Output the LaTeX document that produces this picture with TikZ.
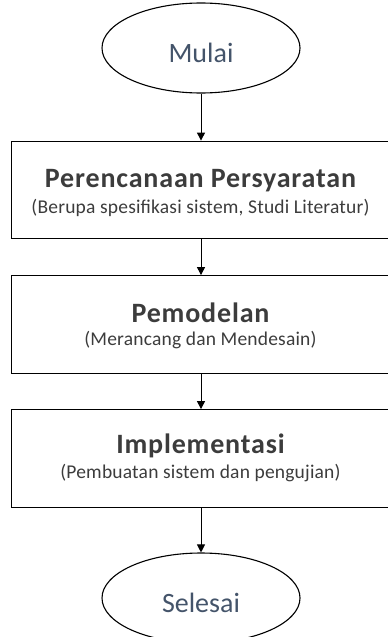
\documentclass[tikz,border=0pt]{standalone}
\usepackage{fontspec}
\setmainfont{Carlito}
\newfontfamily\titlefont[LetterSpace=3]{Carlito}
\newfontfamily\subfont[LetterSpace=1]{Carlito}
\usetikzlibrary{shapes.geometric,arrows.meta}
\definecolor{txt}{HTML}{3C3C3C}
\definecolor{term}{HTML}{44546A}
\begin{document}
\begin{tikzpicture}[x=1pt,y=-1pt,
  procbox/.style={draw=black,line width=1.3pt,minimum width=380pt,minimum height=97.5pt,inner sep=0pt},
  terminal/.style={draw=black,ellipse,line width=1.1pt,minimum width=198pt,minimum height=90pt,inner sep=0pt,
    text=term,font=\fontsize{28}{30}\selectfont,text height=28pt,text depth=0pt},
  titletext/.style={anchor=base,text=txt,font=\titlefont\fontsize{28}{30}\selectfont\bfseries},
  subtext/.style={anchor=base,text=txt,font=\subfont\fontsize{19.5}{22}\selectfont},
  flow/.style={draw=black,line width=1pt,-{Triangle[length=8pt,width=8pt]}}]
\useasboundingbox (0,0) rectangle (388,637);
\node[terminal] (start) at (201,48) {Mulai};
\node[procbox] (b1) at (201.5,190) {};
\node[procbox] (b2) at (201.5,324.5) {};
\node[procbox] (b3) at (201.5,458.5) {};
\node[terminal] (end) at (201,598) {Selesai};
\node[titletext] (t1) at (200.5,187) {Perencanaan Persyaratan};
\node[subtext] (s1) at (200.5,213) {(Berupa spesifikasi sistem, Studi Literatur)};
\node[titletext] (t2) at (200.5,322) {Pemodelan};
\node[subtext] (s2) at (200.5,345) {(Merancang dan Mendesain)};
\node[titletext] (t3) at (200.5,453) {Implementasi};
\node[subtext] (s3) at (200.5,478) {(Pembuatan sistem dan pengujian)};
\draw[flow] (start.south) -- (b1.north -| start.south);
\draw[flow] (b1.south -| start.south) -- (b2.north -| start.south);
\draw[flow] (b2.south -| start.south) -- (b3.north -| start.south);
\draw[flow] (b3.south -| start.south) -- (end.north);
\end{tikzpicture}
\end{document}
